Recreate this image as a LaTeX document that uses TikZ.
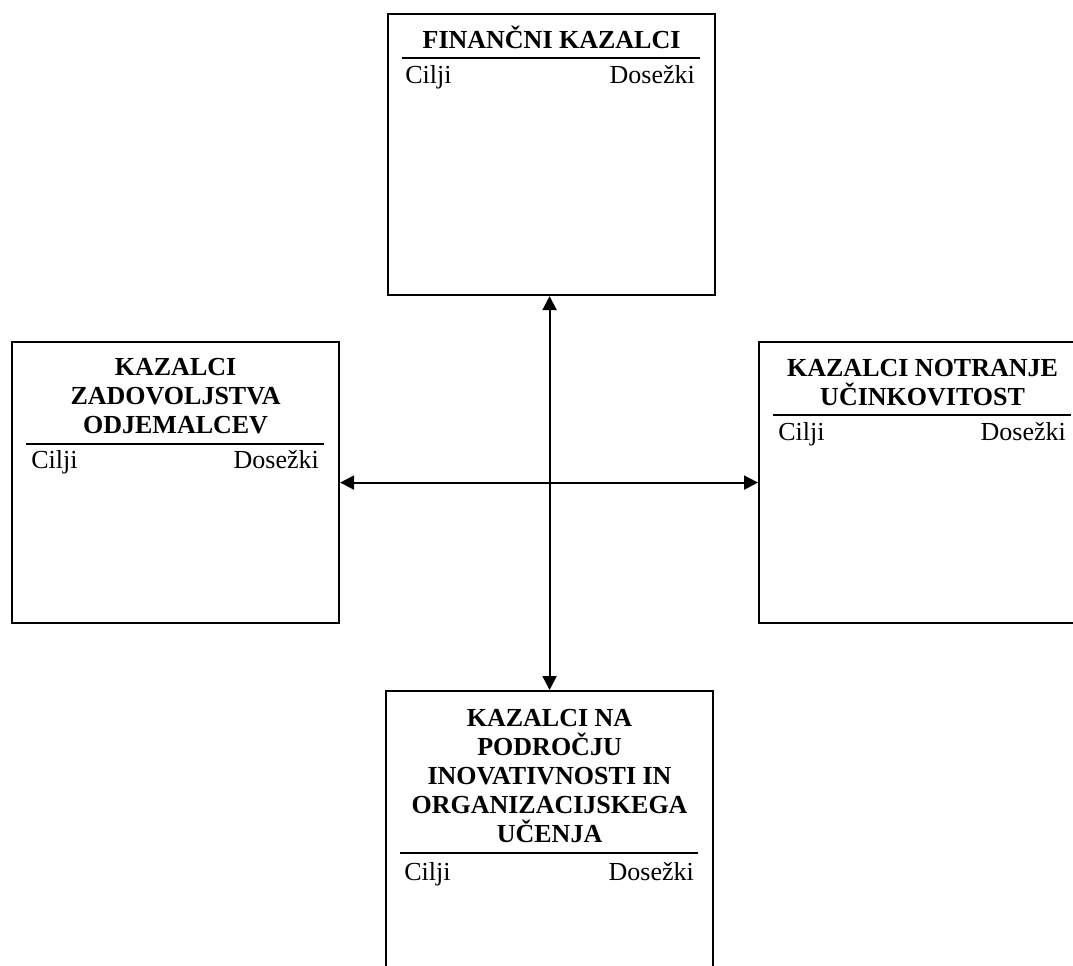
\documentclass[tikz,border=0pt]{standalone}
\usepackage{fontspec}
\setmainfont{Liberation Serif}
\usetikzlibrary{calc,arrows.meta}
\begin{document}
\begin{tikzpicture}[x=0.75pt,y=-0.75pt,
  panel/.style={draw,line width=1.6pt,minimum width=245.25pt,minimum height=210.75pt,
    anchor=north west,inner sep=0pt},
  % multi-line headings are anchored at the baseline of their last line
  heading/.style={font=\fontsize{19.5pt}{21.75pt}\selectfont\bfseries,align=center,
    anchor=base,inner sep=0pt},
  colleft/.style={font=\fontsize{19.5pt}{21.75pt}\selectfont,anchor=base west,inner sep=0pt},
  colright/.style={font=\fontsize{19.5pt}{21.75pt}\selectfont,anchor=base east,inner sep=0pt},
  rule/.style={line width=1.6pt},
  link/.style={line width=1.6pt,
    {Triangle[length=10.5pt,width=10.5pt]}-{Triangle[length=10.5pt,width=10.5pt]}}
]
\path[use as bounding box] (0,0) rectangle (1073,965);
\clip (0,0) rectangle (1073,965);

% four panels
\node[panel] (fin)  at (387,13)  {};
\node[panel] (odj)  at (11,341)  {};
\node[panel] (notr) at (758,341) {};
\node[panel] (ino)  at (385,690) {};

% financial indicators
\node[heading] (finT) at ($(fin.north)+(0,35)$) {FINANČNI KAZALCI};
\draw[rule] ($(fin.north west)+(15,45)$) -- ($(fin.north east)+(-16,45)$);
\node[colleft]  (finC) at ($(fin.north west)+(18,70)$) {Cilji};
\node[colright] (finD) at ($(fin.north east)+(-21,70)$) {Dosežki};

% customer satisfaction
\node[heading] (odjT) at ($(odj.north)+(0,92)$) {KAZALCI\\ZADOVOLJSTVA\\ODJEMALCEV};
\draw[rule] ($(odj.north west)+(15,103)$) -- ($(odj.north east)+(-16,103)$);
\node[colleft]  (odjC) at ($(odj.north west)+(20,127)$) {Cilji};
\node[colright] (odjD) at ($(odj.north east)+(-21,127)$) {Dosežki};

% internal efficiency
\node[heading] (notrT) at ($(notr.north)+(0,64)$) {KAZALCI NOTRANJE\\UČINKOVITOST};
\draw[rule] ($(notr.north west)+(15,74)$) -- ($(notr.north east)+(-16,74)$);
\node[colleft]  (notrC) at ($(notr.north west)+(20,99)$) {Cilji};
\node[colright] (notrD) at ($(notr.north east)+(-21,99)$) {Dosežki};

% innovation and organisational learning
\node[heading] (inoT) at ($(ino.north)+(0,152)$)
  {KAZALCI NA\\PODROČJU\\INOVATIVNOSTI IN\\ORGANIZACIJSKEGA\\UČENJA};
\draw[rule] ($(ino.north west)+(15,163)$) -- ($(ino.north east)+(-16,163)$);
\node[colleft]  (inoC) at ($(ino.north west)+(19,190)$) {Cilji};
\node[colright] (inoD) at ($(ino.north east)+(-20,190)$) {Dosežki};

% connectors
\draw[link] (ino.north |- fin.south) -- (ino.north);
\draw[link] (odj.east) -- (notr.west);
\end{tikzpicture}
\end{document}
